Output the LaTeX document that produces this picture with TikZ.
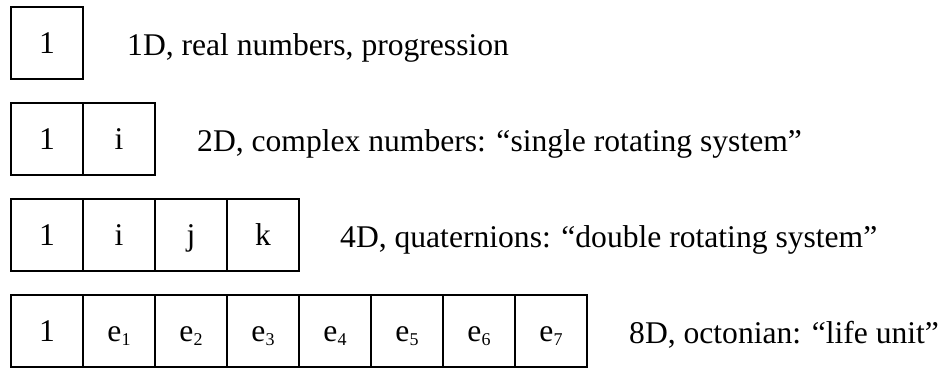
\documentclass[tikz,border=0pt]{standalone}
\usepackage{fontspec}
\setmainfont{Liberation Serif}
\newcommand\esub[1]{e\raisebox{-3.5pt}{\fontsize{18}{18}\selectfont #1}}
\begin{document}
\begin{tikzpicture}[x=1pt,y=-1pt,
  cell/.style={draw, line width=1.8pt, minimum width=72pt, minimum height=72pt,
    inner sep=0pt, outer sep=0pt, text height=21pt, text depth=0pt,
    font=\fontsize{31.6}{38}\selectfont},
  desc/.style={anchor=base west, inner sep=0pt, font=\fontsize{31.6}{38}\selectfont}]
\useasboundingbox (0,0) rectangle (942,368);
% row 1
\node[cell] (a1) at (47,43) {1};
\node[desc] (da) at (127,55) {1D, real numbers, progression};
% row 2
\node[cell] (b1) at (47,139) {1};
\node[cell] (b2) at (119,139) {i};
\node[desc] (db) at (197,151) {2D, complex numbers: “single rotating system”};
% row 3
\node[cell] (c1) at (47,235) {1};
\node[cell] (c2) at (119,235) {i};
\node[cell] (c3) at (191,235) {j};
\node[cell] (c4) at (263,235) {k};
\node[desc] (dc) at (340,247) {4D, quaternions: “double rotating system”};
% row 4
\node[cell] (d1) at (47,331) {1};
\node[cell] (d2) at (119,331) {\esub{1}};
\node[cell] (d3) at (191,331) {\esub{2}};
\node[cell] (d4) at (263,331) {\esub{3}};
\node[cell] (d5) at (335,331) {\esub{4}};
\node[cell] (d6) at (407,331) {\esub{5}};
\node[cell] (d7) at (479,331) {\esub{6}};
\node[cell] (d8) at (551,331) {\esub{7}};
\node[desc] (dd) at (629,343) {8D, octonian: “life unit”};
\end{tikzpicture}
\end{document}
